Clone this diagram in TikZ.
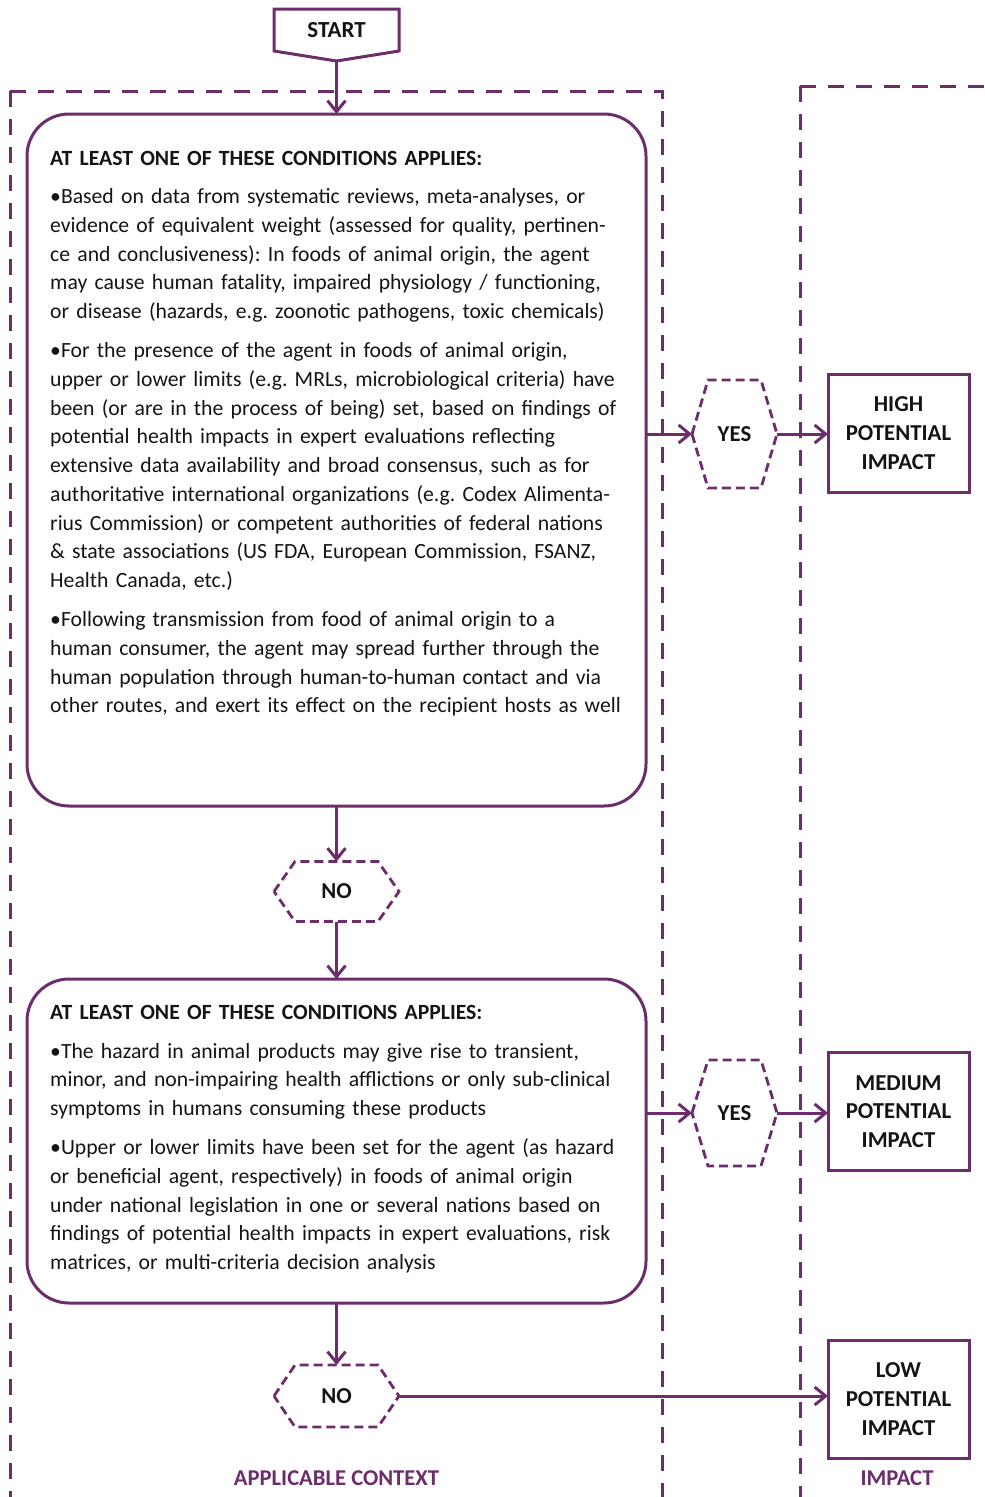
\documentclass[tikz,border=0pt]{standalone}
\usepackage{fontspec}
\setmainfont{Carlito}
\usetikzlibrary{arrows.meta,calc}
\definecolor{pur}{RGB}{108,45,106}
\definecolor{txt}{RGB}{20,20,20}
\frenchspacing
\begin{document}
\begin{tikzpicture}[x=1pt,y=-1pt,
  line join=miter,
  body/.style={font=\fontsize{21.7}{28.75}\selectfont\frenchspacing,text=txt},
  cbox/.style={draw=pur,line width=3pt,rounded corners=42pt,minimum width=619pt,outer sep=0pt},
  bodytext/.style={body,anchor=base west,inner sep=0pt,text width=610pt,align=left},
  ibox/.style={draw=pur,line width=3pt,minimum width=141pt,minimum height=118pt,outer sep=0pt,
     align=center,font=\fontsize{22.8}{28.75}\selectfont\bfseries,text=txt},
  hexn/.style={outer sep=0pt,inner sep=0pt,font=\fontsize{22.8}{24}\selectfont\bfseries,text=txt},
  hexd/.style={draw=pur,line width=2.8pt,dash pattern=on 9pt off 5pt},
  frame/.style={draw=pur,line width=3pt,dash pattern=on 16pt off 12pt},
  arr/.style={draw=pur,line width=3pt,-{Straight Barb[length=11pt,width=18pt,line width=3pt]}},
  lab/.style={font=\fontsize{22.6}{24}\selectfont\bfseries,text=pur}
]
\useasboundingbox (0,0) rectangle (985,1497);

% dashed frames
\draw[frame] (10,91) -- (10,1497);
\draw[frame] (10,91) -- (662,91) -- (662,1497);
\draw[frame] (800,86) -- (800,1497);
\draw[frame] (800,86) -- (985,86);

% start
\node[minimum width=125pt,minimum height=42pt,outer sep=0pt,inner sep=0pt,
      font=\fontsize{23}{24}\selectfont\bfseries,text=txt] (start) at (336.5,30) {START};
\coordinate (starttip) at ($(start.south)+(0,10)$);
\draw[draw=pur,line width=3pt] (start.north west) -- (start.north east) -- (start.south east)
   -- (starttip) -- (start.south west) -- cycle;

% condition boxes
\node[cbox,minimum height=692pt] (c1) at (336.5,460) {};
\node[bodytext] (t1) at (50,165.5) {{\bfseries AT LEAST ONE OF THESE CONDITIONS APPLIES:}\\[9.25pt]
•Based on data from systematic reviews, meta-analyses, or\\
evidence of equivalent weight (assessed for quality, pertinen-\\
ce and conclusiveness): In foods of animal origin, the agent\\
may cause human fatality, impaired physiology / functioning,\\
or disease (hazards, e.g. zoonotic pathogens, toxic chemicals)\\[10.25pt]
•For the presence of the agent in foods of animal origin,\\
upper or lower limits (e.g. MRLs, microbiological criteria) have\\
been (or are in the process of being) set, based on findings of\\
potential health impacts in expert evaluations reflecting\\
extensive data availability and broad consensus, such as for\\
authoritative international organizations (e.g. Codex Alimenta-\\
rius Commission) or competent authorities of federal nations\\
\& state associations (US FDA, European Commission, FSANZ,\\
Health Canada, etc.)\\[10.25pt]
•Following transmission from food of animal origin to a\\
human consumer, the agent may spread further through the\\
human population through human-to-human contact and via\\
other routes, and exert its effect on the recipient hosts as well};

\node[cbox,minimum height=324pt] (c2) at (336.5,1141) {};
\node[bodytext] (t2) at (50,1019.5) {{\bfseries AT LEAST ONE OF THESE CONDITIONS APPLIES:}\\[9.75pt]
•The hazard in animal products may give rise to transient,\\
minor, and non-impairing health afflictions or only sub-clinical\\
symptoms in humans consuming these products\\[10.25pt]
•Upper or lower limits have been set for the agent (as hazard\\
or beneficial agent, respectively) in foods of animal origin\\
under national legislation in one or several nations based on\\
findings of potential health impacts in expert evaluations, risk\\
matrices, or multi-criteria decision analysis};

% hexagons
\node[hexn,minimum width=125pt,minimum height=60pt] (no1) at (336.5,891.5) {NO};
\draw[hexd] (no1.west) -- ($(no1.north west)+(21,0)$) -- ($(no1.north east)+(-21,0)$) -- (no1.east)
   -- ($(no1.south east)+(-21,0)$) -- ($(no1.south west)+(21,0)$) -- cycle;
\node[hexn,minimum width=125pt,minimum height=62pt] (no2) at (336.5,1396) {NO};
\draw[hexd] (no2.west) -- ($(no2.north west)+(21,0)$) -- ($(no2.north east)+(-21,0)$) -- (no2.east)
   -- ($(no2.south east)+(-21,0)$) -- ($(no2.south west)+(21,0)$) -- cycle;
\node[hexn,minimum width=85pt,minimum height=108pt] (yes1) at (734.5,434) {YES};
\draw[hexd] (yes1.west) -- ($(yes1.north west)+(16,0)$) -- ($(yes1.north east)+(-16,0)$) -- (yes1.east)
   -- ($(yes1.south east)+(-16,0)$) -- ($(yes1.south west)+(16,0)$) -- cycle;
\node[hexn,minimum width=85pt,minimum height=106pt] (yes2) at (734.5,1113) {YES};
\draw[hexd] (yes2.west) -- ($(yes2.north west)+(16,0)$) -- ($(yes2.north east)+(-16,0)$) -- (yes2.east)
   -- ($(yes2.south east)+(-16,0)$) -- ($(yes2.south west)+(16,0)$) -- cycle;

% impact boxes
\node[ibox] (high) at (898.5,433) {HIGH\\POTENTIAL\\IMPACT};
\node[ibox] (med) at (898.5,1111.5) {MEDIUM\\POTENTIAL\\IMPACT};
\node[ibox] (low) at (898.5,1399) {LOW\\POTENTIAL\\IMPACT};

% connectors
\draw[arr] (starttip) -- (c1.north);
\draw[arr] (c1.south) -- (no1.north);
\draw[arr] (no1.south) -- (c2.north);
\draw[arr] (c2.south) -- (no2.north);
\draw[arr] (c1.east |- yes1.west) -- (yes1.west);
\draw[arr] (yes1.east) -- (high.west |- yes1.east);
\draw[arr] (c2.east |- yes2.west) -- (yes2.west);
\draw[arr] (yes2.east) -- (med.west |- yes2.east);
\draw[arr] (no2.east) -- (low.west |- no2.east);

% labels
\node[lab] (lctx) at (336.5,1478) {APPLICABLE CONTEXT};
\node[lab] (limp) at (897,1478) {IMPACT};
\end{tikzpicture}
\end{document}
